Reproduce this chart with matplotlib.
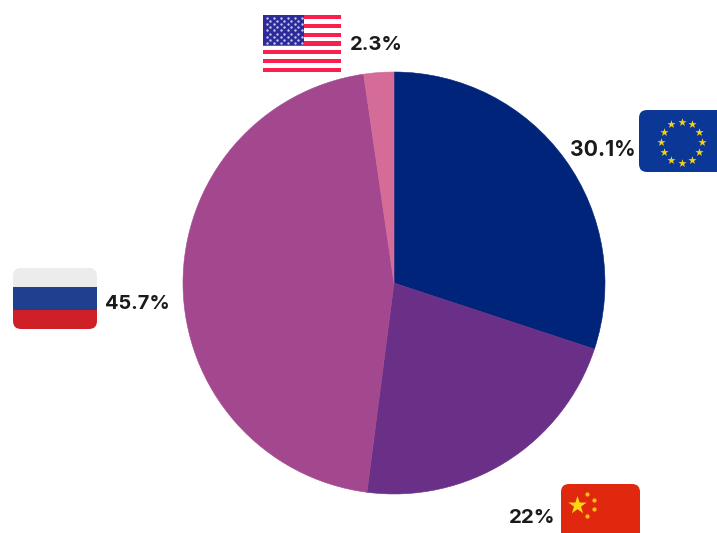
import numpy as np
import matplotlib
matplotlib.use("Agg")
import matplotlib.pyplot as plt
from matplotlib.patches import Rectangle, FancyBboxPatch

W, H = 717, 533

# slices, clockwise from 12 o'clock
regions = ["EU", "China", "Russia", "USA"]
shares = [30.1, 22, 45.7, 2.3]
share_labels = ["30.1%", "22%", "45.7%", "2.3%"]
colors = ["#00247a", "#6a3088", "#a3488e", "#d56c97"]

plt.rcParams['font.family'] = ['Inter', 'DejaVu Sans']

fig = plt.figure(figsize=(W / 100, H / 100), dpi=100)
ax = fig.add_axes([0, 0, 1, 1])

# y is measured from the top of the picture, flipped here
def py(y):
    return H - y

wedges, _ = ax.pie(shares, colors=colors, startangle=90, counterclock=False,
                   center=(394, py(283)), radius=211, frame=False)
# hide the pale seam between slices
for w, c in zip(wedges, colors):
    w.set_edgecolor(c)
    w.set_linewidth(0.4)
ax.set_xlim(0, W)
ax.set_ylim(0, H)
ax.set_aspect("equal")
ax.axis("off")


def rounded(x0, y0, x1, y1, r, color, z=3):
    p = FancyBboxPatch((x0 + r, py(y1) + r), x1 - x0 - 2 * r, y1 - y0 - 2 * r,
                       boxstyle="round,pad=%d,rounding_size=%d" % (r, r),
                       fc=color, ec="none", zorder=z)
    ax.add_patch(p)
    return p


# USA flag
for i in range(13):
    c = "#fb1f4e" if i % 2 == 0 else "white"
    ax.add_patch(Rectangle((263, py(15 + (i + 1) * 57 / 13)), 78, 57 / 13, fc=c, ec="none", zorder=3))
ax.add_patch(Rectangle((263, py(45)), 41, 30, fc="#2b2b9a", ec="none", zorder=4))
sx, sy = [], []
for r in range(9):
    n = 6 if r % 2 == 0 else 5
    for k in range(n):
        sx.append(266.5 + k * 7 + (0 if r % 2 == 0 else 3.5))
        sy.append(py(18 + r * 3.1))
ax.scatter(sx, sy, s=3, c="#c8c8ee", marker="o", linewidths=0, zorder=5)

# EU flag
rounded(639, 110, 760, 172, 8, "#0b3797")
t = np.radians(np.arange(0, 360, 30))
ax.scatter(681.5 + 20.5 * np.cos(t), py(142) + 20.5 * np.sin(t), s=38, c="#f7d117",
           marker="*", linewidths=0, zorder=5)

# China flag
rounded(561, 484, 640, 570, 8, "#e0280f")
ax.scatter([577], [py(505)], s=190, c="#fcd90f", marker="*", linewidths=0, zorder=5)
ax.scatter([587, 594, 594, 587], [py(494), py(500), py(509), py(516)], s=9, c="#fcc20f",
           marker="o", linewidths=0, zorder=5)

# Russia flag, stripes clipped to the rounded outline
clip = rounded(13, 268, 97, 329, 8, "none", z=1)
for y0, y1, c in [(268, 287, "#ececec"), (287, 310, "#1f3f8f"), (310, 329, "#cf2027")]:
    s = Rectangle((13, py(y1)), 84, y1 - y0, fc=c, ec="none", zorder=3)
    ax.add_patch(s)
    s.set_clip_path(clip)

# labels
lab_x = [570, 509, 105, 350]
lab_y = [150, 518, 304, 45]
lab_size = [15.3, 14.7, 14.4, 14.5]
for x, y, s, fs in zip(lab_x, lab_y, share_labels, lab_size):
    ax.text(x, py(y), s, fontsize=fs, fontweight="bold", color="#1a1a1a",
            ha="left", va="center", zorder=6)

fig.savefig("out.png", dpi=100)
